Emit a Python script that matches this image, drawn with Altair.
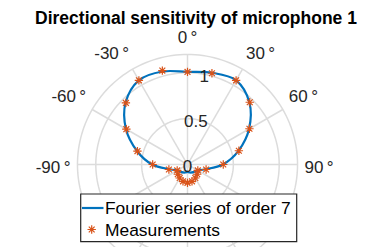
import altair as alt
import numpy as np
import pandas as pd

# ---------------- data ----------------
TITLE = "Directional sensitivity of microphone 1"
LEGEND_LABELS = ["Fourier series of order 7", "Measurements"]

meas_deg = [-180, -165, -150, -135, -120, -105, -90, -75, -60, -45, -30, -15,
            0, 15, 30, 45, 60, 75, 90, 105, 120, 135, 150, 165]
meas_r = [0.20, 0.19, 0.17, 0.15, 0.13, 0.21, 0.38, 0.565, 0.77, 0.95, 1.06, 1.06,
          1.01, 1.03, 1.06, 0.96, 0.78, 0.58, 0.39, 0.21, 0.13, 0.15, 0.17, 0.19]

fit_deg = [-180, -165, -150, -135, -120, -105, -90, -75, -60, -45, -30, -15,
           0, 15, 30, 45, 60, 75, 90, 105, 120, 135, 150, 165]
fit_r = [0.08, 0.09, 0.10, 0.11, 0.13, 0.20, 0.385, 0.57, 0.775, 0.955, 1.06, 1.05,
         1.01, 1.035, 1.06, 0.955, 0.775, 0.575, 0.385, 0.20, 0.13, 0.11, 0.10, 0.09]

theta_ticks = [-90, -60, -30, 0, 30, 60, 90]
theta_tick_labels = ["-90\u2009°", "-60\u2009°", "-30\u2009°", "0\u2009°",
                     "30\u2009°", "60\u2009°", "90\u2009°"]
r_ticks = [0, 0.5, 1]
r_tick_labels = ["0", "0.5", "1"]
r_grid = [0.5, 1.0, 1.2]
spoke_deg = list(range(0, 360, 30))

# ---------------- layout ----------------
W, H = 351, 239
CX, CY = 179.5, 156.5      # polar centre in plot pixels
K = 91.7                   # pixels per radial unit
R_MAX = 1.2
THETA_LABEL_R = 1.276
R_LABEL_DEG = 10.5

BLUE = "#0072BD"
ORANGE = "#D95319"
GRID = "#DCDCDC"
TXT = "#262626"
FONT = "Liberation Sans"

xs = alt.Scale(domain=[-CX / K, (W - CX) / K], nice=False, zero=False)
ys = alt.Scale(domain=[-(H - CY) / K, CY / K], nice=False, zero=False)


def pol(deg, r):
    a = np.deg2rad(np.asarray(deg, dtype=float))
    r = np.asarray(r, dtype=float)
    return r * np.sin(a), r * np.cos(a)


def X(f="x"):
    return alt.X(f + ":Q", scale=xs, axis=None)


def Y(f="y"):
    return alt.Y(f + ":Q", scale=ys, axis=None)


# grid rings
ring_rows = []
for rr in r_grid:
    ang = np.arange(0, 361, 2)
    gx, gy = pol(ang, np.full(len(ang), rr))
    for i in range(len(ang)):
        ring_rows.append({"ring": rr, "i": i, "x": gx[i], "y": gy[i]})
rings = alt.Chart(pd.DataFrame(ring_rows)).mark_line(
    color=GRID, strokeWidth=1.5, clip=True
).encode(x=X(), y=Y(), detail="ring:N", order="i:Q")

# spokes
sx, sy = pol(spoke_deg, [R_MAX] * len(spoke_deg))
spk = pd.DataFrame({"x": 0.0, "y": 0.0, "x2": sx, "y2": sy})
spokes = alt.Chart(spk).mark_rule(color=GRID, strokeWidth=1.5, clip=True).encode(
    x=X(), y=Y(), x2="x2:Q", y2="y2:Q"
)

# fitted curve
fx, fy = pol(fit_deg, fit_r)
fit_df = pd.DataFrame({"i": range(len(fit_deg)), "x": fx, "y": fy})
curve = alt.Chart(fit_df).mark_line(
    color=BLUE, strokeWidth=2.2, interpolate="cardinal-closed", clip=True
).encode(x=X(), y=Y(), order="i:Q")

# measurements
STAR = "M-1,0L1,0M0,-1L0,1M-0.7,-0.7L0.7,0.7M-0.7,0.7L0.7,-0.7"
mx, my = pol(meas_deg, meas_r)
meas_df = pd.DataFrame({"x": mx, "y": my})
meas = alt.Chart(meas_df).mark_point(
    shape=STAR, filled=False, color=ORANGE, strokeWidth=1.2, size=70, opacity=1
).encode(x=X(), y=Y())

# theta labels
tx, ty = pol(theta_ticks, [THETA_LABEL_R] * len(theta_ticks))
th_df = pd.DataFrame({"deg": theta_ticks, "lab": theta_tick_labels, "x": tx, "y": ty})


def th_layer(cond, align, baseline, dy=0):
    return alt.Chart(th_df[cond(th_df["deg"])]).mark_text(
        align=align, baseline=baseline, dy=dy, font=FONT, fontSize=17, color=TXT
    ).encode(x=X(), y=Y(), text="lab:N")


th0 = th_layer(lambda d: d == 0, "center", "bottom")
thp = th_layer(lambda d: (d > 0) & (d < 90), "left", "bottom")
thn = th_layer(lambda d: (d < 0) & (d > -90), "right", "bottom")
th90p = th_layer(lambda d: d == 90, "left", "middle", 3)
th90n = th_layer(lambda d: d == -90, "right", "middle", 3)

# radial labels
rx, ry = pol([R_LABEL_DEG] * len(r_ticks), r_ticks)
r_df = pd.DataFrame({"lab": r_tick_labels, "x": rx, "y": ry})
rlab = alt.Chart(r_df).mark_text(
    align="center", baseline="middle", dy=2.5, font=FONT, fontSize=17, color=TXT
).encode(x=X(), y=Y(), text="lab:N")

# title
title = alt.Chart(pd.DataFrame({"t": [TITLE]})).mark_text(
    font=FONT, fontSize=17.5, fontWeight="bold", color="#000000",
    align="center", baseline="top"
).encode(x=alt.value(188), y=alt.value(2), text="t:N")

# legend (manual)
leg_box = alt.Chart(pd.DataFrame({"a": [0]})).mark_rect(
    fill="white", stroke=TXT, strokeWidth=1.2
).encode(x=alt.value(72.7), x2=alt.value(288.7), y=alt.value(186), y2=alt.value(233.7))
leg_line = alt.Chart(pd.DataFrame({"a": [0]})).mark_rule(
    color=BLUE, strokeWidth=2.2
).encode(x=alt.value(74), x2=alt.value(95.5), y=alt.value(200))
leg_star = alt.Chart(pd.DataFrame({"a": [0]})).mark_point(
    shape=STAR, filled=False, color=ORANGE, strokeWidth=1.2, size=70, opacity=1
).encode(x=alt.value(83.7), y=alt.value(221.5))
leg_text = alt.Chart(pd.DataFrame({"t": LEGEND_LABELS, "yy": [200, 222]})).mark_text(
    font=FONT, fontSize=17.4, color="#000000", align="left", baseline="middle", dy=1
).encode(x=alt.value(97), y=alt.Y("yy:Q", scale=None, axis=None), text="t:N")

chart = alt.layer(
    rings, spokes, curve, meas, th0, thp, thn, th90p, th90n, rlab, title,
    leg_box, leg_line, leg_star, leg_text
).properties(
    width=W, height=H, padding=0, autosize=alt.AutoSizeParams(type="none")
).configure_view(strokeWidth=0)

chart.save("out.html", embed_options={"renderer": "svg", "actions": False})
